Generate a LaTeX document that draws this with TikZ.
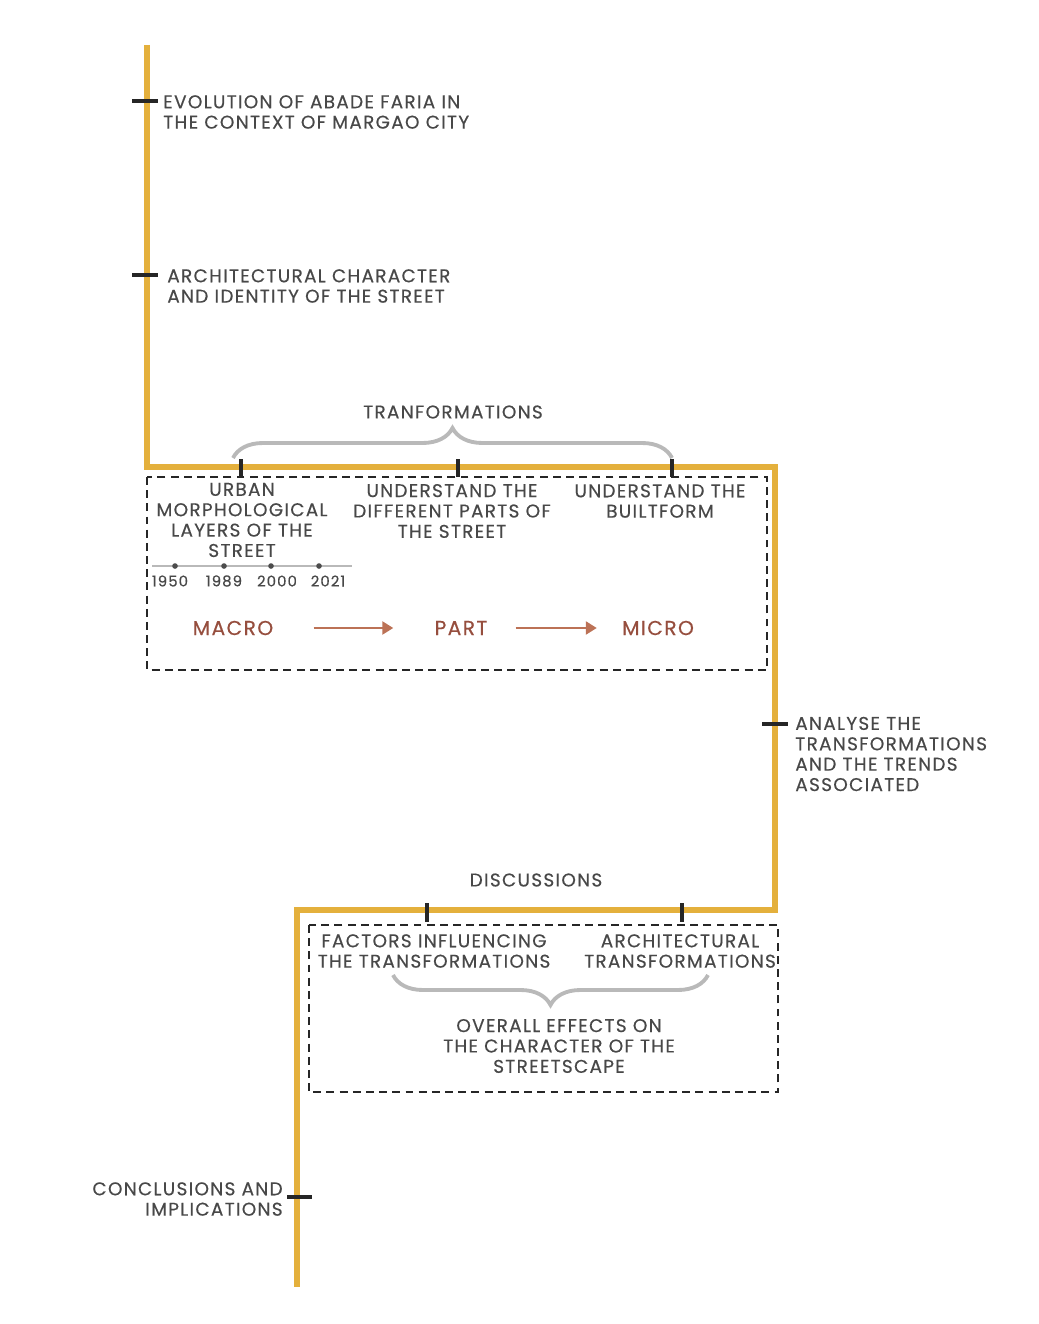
\documentclass[tikz,border=0pt]{standalone}
\usepackage{fontspec}
\setmainfont[LetterSpace=7, FakeBold=0.4]{Poppins}
\usetikzlibrary{arrows.meta,decorations.pathreplacing}
\definecolor{gold}{RGB}{228,176,60}
\definecolor{ink}{RGB}{72,72,72}
\definecolor{rust}{RGB}{150,78,62}
\definecolor{rustline}{RGB}{188,114,86}
\tikzset{
  caption/.style={text=ink, font=\fontsize{10.5}{11.6}\selectfont, inner sep=0pt, align=center},
  levelword/.style={text=rust, font=\fontsize{11.5}{13}\selectfont, inner sep=0pt},
  yearlabel/.style={text=ink, font=\fontsize{8.5}{9}\selectfont, inner sep=0pt},
  goldline/.style={gold, line width=3.4pt},
  tickmark/.style={black!85, line width=1.8pt},
  boxframe/.style={black!85, line width=1.1pt, dash pattern=on 4.5pt off 3pt},
  bracket/.style={gray!55, line width=2.2pt, decorate, decoration={brace, amplitude=0.6cm}},
  flow/.style={rustline, line width=1.4pt, -{Triangle[length=0.22cm, width=0.26cm]}},
}
\begin{document}
\begin{tikzpicture}[x=0.02cm, y=-0.02cm]
  \useasboundingbox (0,0) rectangle (1038,1324);

  % main path
  \coordinate (start) at (147,45);
  \coordinate (c1) at (147,467);
  \coordinate (c2) at (775,467);
  \coordinate (c3) at (775,910);
  \coordinate (c4) at (297,910);
  \coordinate (finish) at (297,1287);
  \draw[goldline] (start) -- (c1) -- (c2) -- (c3) -- (c4) -- (finish);

  % first two stages
  \draw[tickmark] (132,101) -- (158,101);
  \node[caption, anchor=west, align=left] (evolution) at (163,112)
    {EVOLUTION OF ABADE FARIA IN\\THE CONTEXT OF MARGAO CITY};
  \draw[tickmark] (132,275) -- (158,275);
  \node[caption, anchor=west, align=left] (character) at (167,286)
    {ARCHITECTURAL CHARACTER\\AND IDENTITY OF THE STREET};

  % transformations
  \node[caption] (trans) at (453,412) {TRANFORMATIONS};
  \draw[bracket] (233,458) -- (672,458);
  \foreach \x in {241,458,672}
    \draw[tickmark] (\x,459) -- (\x,477);
  \draw[boxframe] (147,477) rectangle (767,670);

  \node[caption] (urban) at (242,520) {URBAN\\MORPHOLOGICAL\\LAYERS OF THE\\STREET};
  \node[caption] (parts) at (452,511) {UNDERSTAND THE\\DIFFERENT PARTS OF\\THE STREET};
  \node[caption] (built) at (660,501) {UNDERSTAND THE\\BUILTFORM};

  \draw[gray!55, line width=0.9pt] (152,566) -- (352,566);
  \foreach \x/\yr/\lx in {175/1950/170, 224/1989/224, 271/2000/277, 319/2021/328} {
    \fill[black!70] (\x,566) circle (1.6pt);
    \node[yearlabel] (y\yr) at (\lx,581) {\yr};
  }

  \node[levelword] (macro) at (233,628) {MACRO};
  \node[levelword] (part) at (461,628) {PART};
  \node[levelword] (micro) at (658,628) {MICRO};
  \draw[flow, shorten <=0.8cm, shorten >=0.82cm] (macro) -- (part);
  \draw[flow, shorten <=0.56cm, shorten >=0.5cm] (part) -- (micro);

  % analysis
  \draw[tickmark] (762,724) -- (788,724);
  \node[caption, anchor=west, align=left] (analyse) at (795,754)
    {ANALYSE THE\\TRANSFORMATIONS\\AND THE TRENDS\\ASSOCIATED};

  % discussions
  \node[caption] (disc) at (536,880) {DISCUSSIONS};
  \foreach \x in {427,682}
    \draw[tickmark] (\x,903) -- (\x,922);
  \draw[boxframe] (309,925) rectangle (778,1092);
  \node[caption] (factors) at (434,951) {FACTORS INFLUENCING\\THE TRANSFORMATIONS};
  \node[caption] (archtrans) at (680,951) {ARCHITECTURAL\\TRANSFORMATIONS};
  \draw[bracket] (708,975) -- (393,975);
  \node[caption] (overall) at (559,1046) {OVERALL EFFECTS ON\\THE CHARACTER OF THE\\STREETSCAPE};

  % conclusions
  \draw[tickmark] (287,1197) -- (312,1197);
  \node[caption, anchor=east, align=right] (concl) at (283,1199)
    {CONCLUSIONS AND\\IMPLICATIONS};
\end{tikzpicture}
\end{document}
